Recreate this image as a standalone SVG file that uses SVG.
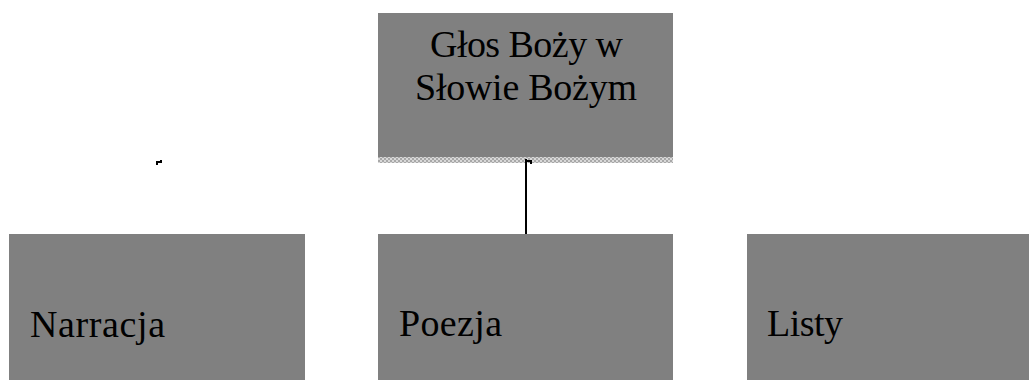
<svg xmlns="http://www.w3.org/2000/svg" width="1029" height="380" viewBox="0 0 1029 380">
<defs>
<style>
.box{fill:#808080}
.t{font-family:"Liberation Serif","DejaVu Serif",serif;font-size:38px;fill:#000}
.c{stroke:#000;stroke-width:2;fill:none}
</style>
<pattern id="chk" width="4" height="4" patternUnits="userSpaceOnUse">
<rect width="4" height="4" fill="#a8a8a8"/>
<rect width="2" height="2" fill="#d8d8d8"/>
<rect x="2" y="2" width="2" height="2" fill="#d8d8d8"/>
</pattern>
</defs>
<rect width="1029" height="380" fill="#fff"/>
<g id="top">
<rect class="box" x="378" y="13" width="295" height="144"/>
<rect x="378" y="157" width="295" height="6" fill="url(#chk)"/>
<text class="t" x="430" y="57" textLength="193" lengthAdjust="spacing">Głos Boży w</text>
<text class="t" x="415" y="100" textLength="222" lengthAdjust="spacing">Słowie Bożym</text>
</g>
<g id="narracja">
<rect class="box" x="9" y="234" width="296" height="146"/>
<text class="t" x="30" y="337" textLength="135" lengthAdjust="spacing">Narracja</text>
</g>
<g id="poezja">
<rect class="box" x="378" y="234" width="295" height="146"/>
<text class="t" x="399" y="336" textLength="103" lengthAdjust="spacing">Poezja</text>
</g>
<g id="listy">
<rect class="box" x="747" y="234" width="282" height="146"/>
<text class="t" x="767" y="336" textLength="76" lengthAdjust="spacing">Listy</text>
</g>
<g id="connectors">
<path class="c" d="M526 159 V234"/>
<path class="c" d="M526 161 H531 V164"/>
<path class="c" d="M157 165 V162 H161 V160"/>
</g>
</svg>
